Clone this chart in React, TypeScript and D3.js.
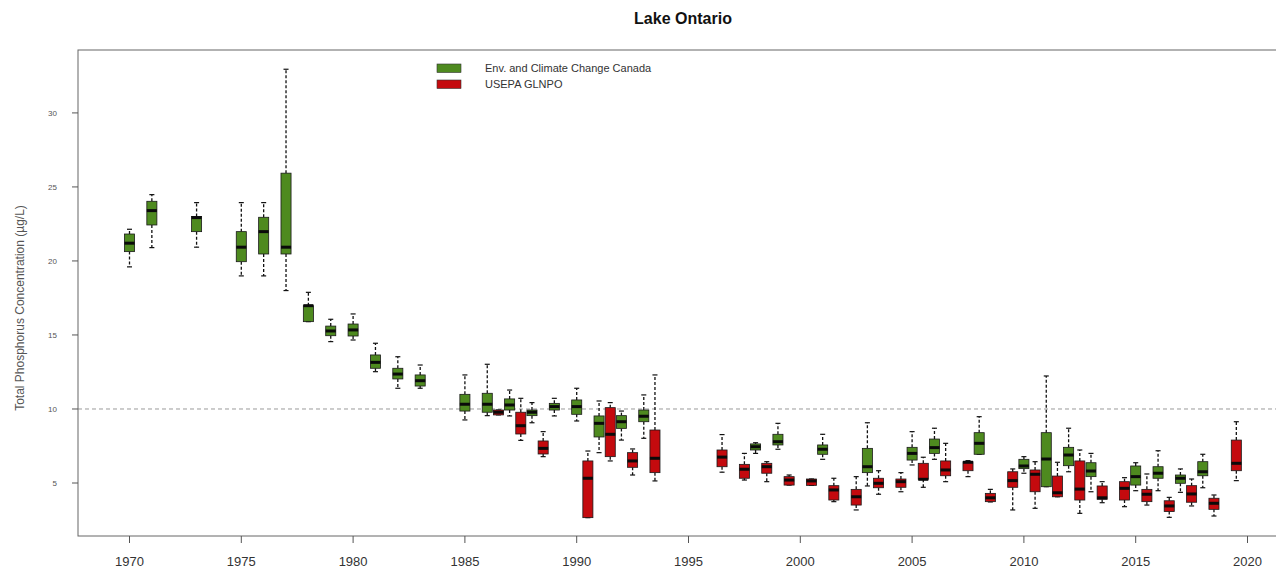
import React from "react";
import * as d3 from "d3";

// Environment and Climate Change Canada – annual spring surveys
const ecccYears = [1970, 1971, 1973, 1975, 1976, 1977, 1978, 1979, 1980, 1981, 1982, 1983, 1985, 1986, 1987, 1988, 1989, 1990, 1991, 1992, 1993, 1998, 1999, 2001, 2003, 2005, 2006, 2008, 2010, 2011, 2012, 2013, 2015, 2016, 2017, 2018];
const ecccLow = [19.6, 20.9, 20.93, 18.99, 18.99, 18.0, 15.9, 14.55, 14.66, 12.52, 11.4, 11.4, 9.26, 9.55, 9.53, 9.07, 9.53, 9.19, 7.05, 7.9, 8.02, 7.0, 7.28, 6.6, 4.8, 6.22, 6.6, 6.94, 5.66, 4.75, 5.76, 4.41, 4.48, 4.48, 4.37, 4.68];
const ecccQ1 = [20.63, 22.43, 21.98, 19.95, 20.47, 20.47, 15.9, 14.95, 14.93, 12.75, 12.03, 11.55, 9.86, 9.78, 9.93, 9.55, 9.93, 9.64, 8.11, 8.69, 9.14, 7.23, 7.57, 6.94, 5.7, 6.55, 7.0, 6.94, 5.97, 4.75, 6.17, 5.43, 4.86, 5.32, 4.98, 5.49];
const ecccMedian = [21.2, 23.4, 22.93, 20.93, 21.98, 20.93, 16.98, 15.27, 15.34, 13.15, 12.36, 11.91, 10.32, 10.32, 10.27, 9.78, 10.16, 10.16, 9.03, 9.14, 9.51, 7.45, 7.79, 7.28, 6.1, 7.0, 7.39, 7.68, 6.15, 6.62, 6.89, 5.81, 5.43, 5.66, 5.32, 5.76];
const ecccQ3 = [21.82, 24.03, 23.0, 21.98, 22.95, 25.93, 16.98, 15.6, 15.74, 13.65, 12.75, 12.3, 10.99, 11.06, 10.68, 9.93, 10.38, 10.61, 9.53, 9.55, 9.93, 7.64, 8.29, 7.57, 7.34, 7.41, 7.97, 8.4, 6.6, 8.4, 7.41, 6.37, 6.15, 6.1, 5.54, 6.44];
const ecccHigh = [22.14, 24.48, 23.94, 23.94, 23.94, 32.95, 17.88, 16.06, 16.42, 14.44, 13.53, 12.97, 12.3, 13.02, 11.28, 10.43, 10.72, 11.4, 10.54, 9.86, 10.95, 7.72, 9.03, 8.29, 9.07, 8.47, 8.7, 9.48, 6.78, 12.23, 8.7, 7.0, 6.37, 7.18, 5.95, 6.94];

// USEPA Great Lakes National Program Office – plotted half a year after the survey year
const glnpoYears = [1986.5, 1987.5, 1988.5, 1990.5, 1991.5, 1992.5, 1993.5, 1996.5, 1997.5, 1998.5, 1999.5, 2000.5, 2001.5, 2002.5, 2003.5, 2004.5, 2005.5, 2006.5, 2007.5, 2008.5, 2009.5, 2010.5, 2011.5, 2012.5, 2013.5, 2014.5, 2015.5, 2016.5, 2017.5, 2018.5, 2019.5];
const glnpoLow = [9.6, 7.88, 6.78, 2.66, 6.49, 5.54, 5.14, 5.73, 5.2, 5.09, 4.86, 4.84, 3.74, 3.18, 4.24, 4.41, 4.71, 5.09, 5.43, 3.72, 3.18, 3.29, 4.07, 2.95, 3.67, 3.4, 3.51, 2.68, 3.45, 2.77, 5.16];
const glnpoQ1 = [9.6, 8.31, 6.96, 2.66, 6.78, 6.06, 5.7, 6.1, 5.32, 5.66, 4.86, 4.84, 3.85, 3.51, 4.68, 4.71, 5.25, 5.49, 5.83, 3.74, 4.71, 4.41, 4.07, 3.85, 3.9, 3.85, 3.74, 3.07, 3.7, 3.22, 5.83];
const glnpoMedian = [9.78, 8.87, 7.34, 5.32, 8.29, 6.49, 6.67, 6.75, 5.93, 6.1, 5.2, 5.14, 4.53, 4.07, 4.98, 5.09, 5.25, 5.88, 6.4, 4.0, 5.16, 5.59, 4.34, 4.59, 4.0, 4.64, 4.24, 3.45, 4.26, 3.63, 6.33];
const glnpoQ3 = [9.93, 9.78, 7.84, 6.49, 10.09, 7.05, 8.58, 7.23, 6.26, 6.33, 5.43, 5.27, 4.82, 4.57, 5.32, 5.27, 6.33, 6.49, 6.44, 4.3, 5.76, 5.88, 5.47, 6.49, 4.8, 5.09, 4.57, 3.8, 4.82, 3.97, 7.9];
const glnpoHigh = [9.93, 10.72, 8.47, 7.16, 10.43, 7.3, 12.3, 8.27, 7.0, 6.44, 5.54, 5.27, 5.32, 5.43, 5.83, 5.7, 6.74, 7.68, 6.51, 4.57, 5.95, 6.44, 6.4, 7.23, 5.09, 5.36, 5.61, 4.03, 5.27, 4.19, 9.14];

const xTicks = [1970, 1975, 1980, 1985, 1990, 1995, 2000, 2005, 2010, 2015, 2020];
const yTicks = [5, 10, 15, 20, 25, 30];
const objective = 10;

const seriesNames = ["Env. and Climate Change Canada", "USEPA GLNPO"];
const seriesColors = ["#4E8A1F", "#C40A0E"];

const W = 1276;
const H = 569;
const plot = { left: 78, right: 1280, top: 50, bottom: 536 };
const font = "'Liberation Sans', Arial, Helvetica, sans-serif";

const x = d3.scaleLinear().domain([1970, 2020]).range([129.5, 1247.5]);
const y = d3.scaleLinear().domain([1.42, 34.25]).range([plot.bottom, plot.top]);

type Box = { pos: number; low: number; q1: number; med: number; q3: number; high: number };

const buildBoxes = (pos: number[], low: number[], q1: number[], med: number[], q3: number[], high: number[]): Box[] =>
  pos.map((p, i) => ({ pos: p, low: low[i], q1: q1[i], med: med[i], q3: q3[i], high: high[i] }));

const series = [
  buildBoxes(ecccYears, ecccLow, ecccQ1, ecccMedian, ecccQ3, ecccHigh),
  buildBoxes(glnpoYears, glnpoLow, glnpoQ1, glnpoMedian, glnpoQ3, glnpoHigh),
];

const boxHalf = (x(1970.45) - x(1970)) / 2;
const capHalf = boxHalf * 0.5;

function BoxMark({ b, color }: { b: Box; color: string }) {
  const cx = x(b.pos);
  return (
    <g>
      <line x1={cx} x2={cx} y1={y(b.q3)} y2={y(b.high)} stroke="#111" strokeWidth={1.3} strokeDasharray="3,2" />
      <line x1={cx} x2={cx} y1={y(b.q1)} y2={y(b.low)} stroke="#111" strokeWidth={1.3} strokeDasharray="3,2" />
      <line x1={cx - capHalf} x2={cx + capHalf} y1={y(b.high)} y2={y(b.high)} stroke="#111" strokeWidth={1.2} />
      <line x1={cx - capHalf} x2={cx + capHalf} y1={y(b.low)} y2={y(b.low)} stroke="#111" strokeWidth={1.2} />
      <rect
        x={cx - boxHalf}
        y={y(b.q3)}
        width={boxHalf * 2}
        height={Math.max(y(b.q1) - y(b.q3), 1)}
        fill={color}
        stroke="#1a1a1a"
        strokeWidth={0.8}
      />
      <line x1={cx - boxHalf} x2={cx + boxHalf} y1={y(b.med)} y2={y(b.med)} stroke="#0a0a0a" strokeWidth={3} />
    </g>
  );
}

export default function App() {
  return (
    <svg
      width={W}
      height={H}
      viewBox={`0 0 ${W} ${H}`}
      style={{ position: "absolute", left: 0, top: 0, background: "#fff" }}
      fontFamily={font}
    >
      <rect x={0} y={0} width={W} height={H} fill="#fff" />
      <text x={683} y={24} textAnchor="middle" fontSize={16} fontWeight="bold" fill="#111">
        Lake Ontario
      </text>

      {/* objective line */}
      <line
        x1={plot.left}
        x2={plot.right}
        y1={y(objective)}
        y2={y(objective)}
        stroke="#9a9a9a"
        strokeWidth={1}
        strokeDasharray="4,3"
      />

      {/* plot frame */}
      <rect
        x={plot.left}
        y={plot.top}
        width={plot.right - plot.left}
        height={plot.bottom - plot.top}
        fill="none"
        stroke="#666"
        strokeWidth={1}
      />

      {/* y axis */}
      {yTicks.map((t) => (
        <g key={t}>
          <line x1={plot.left - 6} x2={plot.left} y1={y(t)} y2={y(t)} stroke="#555" strokeWidth={1} />
          <text x={plot.left - 21} y={y(t) + 3} textAnchor="end" fontSize={8} fill="#555">
            {t}
          </text>
        </g>
      ))}
      <text
        transform="translate(24, 308) rotate(-90)"
        textAnchor="middle"
        fontSize={12}
        fill="#555"
      >
        Total Phosphorus Concentration (µg/L)
      </text>

      {/* x axis */}
      {xTicks.map((t) => (
        <g key={t}>
          <line x1={x(t)} x2={x(t)} y1={plot.bottom} y2={plot.bottom + 7} stroke="#555" strokeWidth={1} />
          <text x={x(t)} y={566} textAnchor="middle" fontSize={13} fill="#333">
            {t}
          </text>
        </g>
      ))}

      {/* boxes */}
      {series.map((boxes, si) => (
        <g key={si}>
          {boxes.map((b, i) => (
            <BoxMark key={i} b={b} color={seriesColors[si]} />
          ))}
        </g>
      ))}

      {/* legend */}
      {seriesNames.map((name, i) => (
        <g key={name}>
          <rect x={437} y={64 + i * 16} width={24} height={8.5} fill={seriesColors[i]} stroke="#333" strokeWidth={0.6} />
          <text x={485} y={72 + i * 16} fontSize={11} fill="#333">
            {name}
          </text>
        </g>
      ))}
    </svg>
  );
}
